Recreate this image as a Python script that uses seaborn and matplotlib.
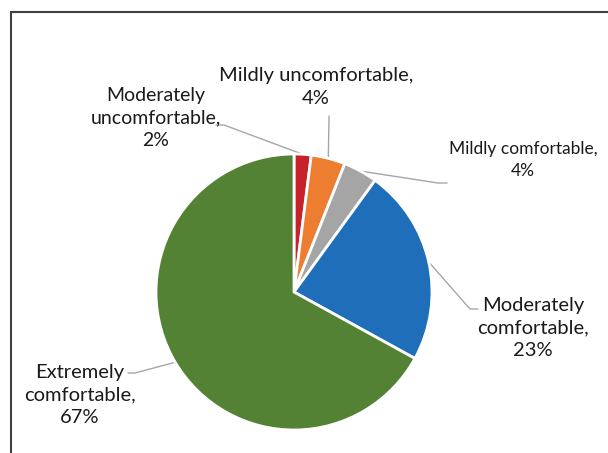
import numpy as np
import matplotlib
matplotlib.use("Agg")
import matplotlib.pyplot as plt
import seaborn as sns
from matplotlib.lines import Line2D

# survey answers, clockwise from 12 o'clock
labels = ['Moderately\nuncomfortable,', 'Mildly uncomfortable,', 'Mildly comfortable,',
          'Moderately\ncomfortable,', 'Extremely\ncomfortable,']
values = [2, 4, 4, 23, 67]
colors = ['#C7222A', '#ED7D31', '#A5A5A5', '#1E6EBA', '#548235']

sns.set_theme(style='white')
plt.rcParams['font.family'] = ['Lato', 'DejaVu Sans']

W, H = 608, 453
fig = plt.figure(figsize=(W / 100, H / 100), dpi=100)
ax = fig.add_axes([0, 0, 1, 1])

cx, cy, R = 294, H - 292, 138
wedges, _ = ax.pie(values, colors=colors, startangle=90, counterclock=False,
                   center=(cx, cy), radius=R, frame=True,
                   wedgeprops=dict(edgecolor='white', linewidth=2))
ax.set_xlim(0, W)
ax.set_ylim(0, H)
ax.set_aspect('equal')
ax.axis('off')

# label layout: (text x, text y from top, font size, leader path label->wedge, px from top-left)
layout = [
    (156, 118, 14, [(216, 125), (224, 125)]),
    (316, 87, 14.5, [(329, 116)]),
    (523, 160, 12.5, [(447, 183), (438, 183)]),
    (533, 328, 14.5, [(478, 309), (470, 309)]),
    (80, 395, 14.5, [(128, 373), (135, 373)]),
]

for w, lab, v, (tx, ty, fs, path) in zip(wedges, labels, values, layout):
    ang = np.deg2rad((w.theta1 + w.theta2) / 2)
    ex = cx + R * np.cos(ang)
    ey = cy + R * np.sin(ang)
    xs = [ex] + [p[0] for p in path[::-1]]
    ys = [ey] + [H - p[1] for p in path[::-1]]
    ax.plot(xs, ys, color='#A6A6A6', lw=1, zorder=0.5)
    ax.text(tx, H - ty, f'{lab}\n{v}%', ha='center', va='center',
            fontsize=fs, color='#1a1a1a', linespacing=1.42)

# chart frame (left and top edges only visible)
fig.add_artist(Line2D([11 / W, 11 / W], [0, 1 - 12 / H], transform=fig.transFigure,
                      color='#404040', lw=1.5))
fig.add_artist(Line2D([11 / W, 1], [1 - 12 / H, 1 - 12 / H], transform=fig.transFigure,
                      color='#404040', lw=1.5))

fig.savefig('out.png', dpi=100)
